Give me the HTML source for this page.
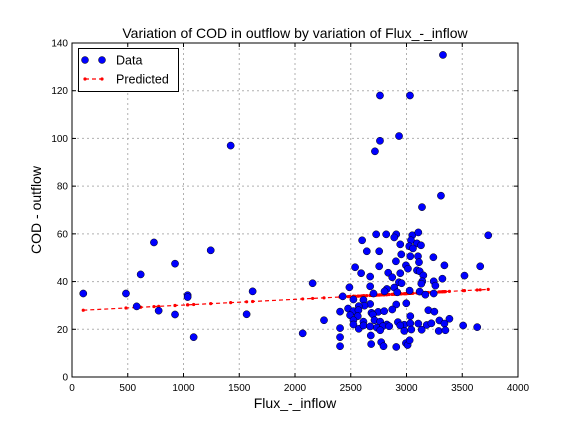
<!DOCTYPE html>
<html><head><meta charset="utf-8">
<style>
body{margin:0;background:#fff;}
svg{display:block;font-family:"Liberation Sans","DejaVu Sans",sans-serif;}
</style></head>
<body>
<svg id="chart" width="576" height="432" viewBox="0 0 576 432">
<rect x="0" y="0" width="576" height="432" fill="#ffffff"/>
<text x="295" y="38" text-anchor="middle" font-size="14" fill="#000">Variation of COD in outflow by variation of Flux_-_inflow</text>
<text x="295" y="408" text-anchor="middle" font-size="14" fill="#000">Flux_-_inflow</text>
<text x="41" y="210" text-anchor="middle" font-size="14" fill="#000" transform="rotate(-90 41 210)">COD - outflow</text>
<g id="grid"></g>
<g id="ticks"></g>
<g id="pred"></g>
<g id="pts"></g>
<rect x="72" y="43" width="446" height="334" fill="none" stroke="#000" stroke-width="1"/>
<g>
<rect x="78.5" y="48.5" width="100" height="43" fill="#fff" stroke="#000" stroke-width="1"/>
<circle cx="85" cy="60" r="3.5" fill="#0000ff" stroke="#000" stroke-width="0.5"/>
<circle cx="102" cy="60" r="3.5" fill="#0000ff" stroke="#000" stroke-width="0.5"/>
<text x="116" y="64.5" font-size="12.5">Data</text>
<line x1="85" y1="79" x2="102" y2="79" stroke="#ff0000" stroke-width="1.2" stroke-dasharray="4,3"/>
<circle cx="85" cy="79" r="1.6" fill="#ff0000"/>
<circle cx="102" cy="79" r="1.6" fill="#ff0000"/>
<text x="116" y="83.5" font-size="12.5">Predicted</text>
</g>
</svg>
<script>
const xTicks = [0,500,1000,1500,2000,2500,3000,3500,4000];
const yTicks = [0,20,40,60,80,100,120,140];
const dataX = [101,484,580,616,735,777,924,924,1037,1037,1091,1244,1423,1566,1620,2069,2158,
3327,2762,3031,2933,2762,2717,3309,
3139,3733,2728,2818,2908,2890,3052,3106,2602,3040,3094,3130,2944,3025,3058,2644,2755,2953,3103,3034,3241,2905,3112,3340,3661,2539,2755,2995,3013,3094,3118,2593,2836,2944,3151,3520,2674,2872,2932,2956,3142,3244,3322,3259,3133,2488,2674,2824,2890,2803,2917,3028,3118,2704,3169,3244,2428,2524,2614,2674,2623,2572,2998,2908,2476,2404,2524,2569,2746,2800,2872,3196,3250,2686,2494,2563,2698,3034,2260,2524,2614,2713,2764,2824,2923,2980,3034,3106,3181,3223,3295,3340,3385,2524,2404,2572,2614,2674,2734,2788,2845,2944,2980,3043,3136,3289,3349,3508,3634,2404,2680,2764,2404,2683,2773,2794,2908,2995,3010,3028];
const dataY = [35,35,29.6,43,56.4,27.8,47.5,26.2,34.3,33.5,16.7,53.1,97,26.3,35.9,18.3,39.3,
135,118,118,101,99,94.6,76,
71.2,59.4,59.8,59.8,59.8,58.5,59.4,60.6,57.3,57.3,56.0,55.2,55.6,54.8,53.9,52.7,52.7,51.4,50.6,50.6,50.2,48.5,48.1,46.8,46.4,46.0,46.4,46.8,45.4,44.7,44.3,43.5,43.7,43.5,42.6,42.5,42.1,41.8,39.7,39.3,40.1,40.1,41.2,38.3,39.1,37.6,38.0,36.9,37.5,35.9,35.5,36.2,35.8,35.0,34.5,35.0,33.8,32.5,32.3,30.6,29.9,29.7,30.9,30.4,28.7,27.4,27.6,28.0,27.3,27.6,28.3,28.0,27.4,26.9,25.9,25.5,26.2,25.5,23.8,23.8,23.2,23.8,23.2,22.0,23.0,21.9,22.5,22.4,21.8,22.5,23.7,22.4,24.4,22.0,20.5,20.2,21.6,21.2,20.7,21.3,21.3,21.6,19.3,19.9,19.8,19.3,19.6,21.6,20.9,16.7,17.4,19.6,12.9,13.8,14.6,12.9,12.6,14.2,13.4,15.4];
const predCoef = [27.76, 0.0024];

const NS='http://www.w3.org/2000/svg';
const X0=72,X1=518,Y0=377,Y1=43;
function sx(v){return X0+(v-0)/(4000-0)*(X1-X0);}
function sy(v){return Y0-(v-0)/(140-0)*(Y0-Y1);}
function mk(tag,attrs,parent){const e=document.createElementNS(NS,tag);for(const k in attrs)e.setAttribute(k,attrs[k]);parent.appendChild(e);return e;}
const grid=document.getElementById('grid'),ticks=document.getElementById('ticks');
xTicks.forEach(t=>{
  const x=sx(t);
  const g=mk('line',{x1:x,y1:Y1,x2:x,y2:Y0,stroke:'#b0b0b0','stroke-dasharray':'2,3','stroke-width':1},grid);
  
  
  const tk=mk('line',{x1:x,y1:Y0,x2:x,y2:Y0-4,stroke:'#000'},ticks);
  
  
  const tk2=mk('line',{x1:x,y1:Y1,x2:x,y2:Y1+4,stroke:'#000'},ticks);
  
  
  const tl=mk('text',{x:x,y:Y0+14,'text-anchor':'middle','font-size':10},ticks);
  tl.textContent=t;
  
  
});
yTicks.forEach(t=>{
  const y=sy(t);
  const g=mk('line',{x1:X0,y1:y,x2:X1,y2:y,stroke:'#b0b0b0','stroke-dasharray':'2,3','stroke-width':1},grid);
  
  
  const tk=mk('line',{x1:X0,y1:y,x2:X0+4,y2:y,stroke:'#000'},ticks);
  
  
  const tk2=mk('line',{x1:X1,y1:y,x2:X1-4,y2:y,stroke:'#000'},ticks);
  
  
  const tl=mk('text',{x:X0-4,y:y+3.5,'text-anchor':'end','font-size':10},ticks);
  tl.textContent=t;
  
  
});
const pred=document.getElementById('pred');
const sorted=dataX.slice().sort((a,b)=>a-b);
const pv=x=>predCoef[0]+predCoef[1]*x;
const pl=mk('polyline',{points:sorted.map(x=>sx(x)+','+sy(pv(x))).join(' '),fill:'none',stroke:'#ff0000','stroke-width':1.2,'stroke-dasharray':'4,3'},pred);


sorted.forEach(x=>{
  const c=mk('circle',{cx:sx(x),cy:sy(pv(x)),r:1.6,fill:'#ff0000'},pred);
  
  
});
const pts=document.getElementById('pts');
dataX.forEach((x,i)=>{
  const c=mk('circle',{cx:sx(x),cy:sy(dataY[i]),r:3.6,fill:'#0000ff',stroke:'#000','stroke-width':0.5},pts);
  
  
});
</script>
</body></html>
